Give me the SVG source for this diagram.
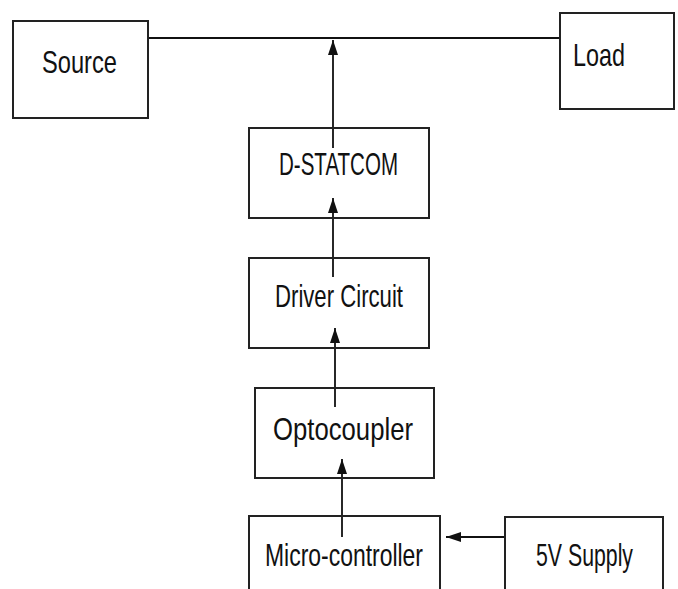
<svg xmlns="http://www.w3.org/2000/svg" width="678" height="589" viewBox="0 0 678 589">
<style>
.box{fill:#fff;stroke:#222;stroke-width:2}
.lbl{font-family:"Liberation Sans",Arial,sans-serif;fill:#111;font-size:32px}
.wire{stroke:#111;stroke-width:1.8;fill:none}
</style>
<defs>
<marker id="ah" markerUnits="userSpaceOnUse" markerWidth="16" markerHeight="12" refX="15" refY="5" orient="auto">
<path d="M0,0 L15,5 L0,10 Z" fill="#111"/>
</marker>
</defs>
<rect width="678" height="589" fill="#fff"/>
<g id="connectors">
<line class="wire" x1="148" y1="38" x2="560" y2="38"/>
<line class="wire" x1="333" y1="148" x2="333" y2="40" marker-end="url(#ah)"/>
<line class="wire" x1="333" y1="277" x2="333" y2="198" marker-end="url(#ah)"/>
<line class="wire" x1="335" y1="407" x2="335" y2="328" marker-end="url(#ah)"/>
<line class="wire" x1="342" y1="537" x2="342" y2="459" marker-end="url(#ah)"/>
<line class="wire" x1="505" y1="537" x2="446" y2="537" marker-end="url(#ah)"/>
</g>
<g id="source">
<rect class="box" x="13" y="21" width="135" height="97"/>
<text class="lbl" x="42" y="73" font-size="34" textLength="75" lengthAdjust="spacingAndGlyphs">Source</text>
</g>
<g id="load">
<rect class="box" x="560" y="13" width="114" height="96"/>
<text class="lbl" x="573" y="66" font-size="35" textLength="52" lengthAdjust="spacingAndGlyphs">Load</text>
</g>
<g id="dstatcom">
<rect class="box" x="249" y="128" width="180" height="90" fill="none" style="fill:none"/>
<text class="lbl" x="279" y="175" textLength="119" lengthAdjust="spacingAndGlyphs">D-STATCOM</text>
</g>
<g id="driver">
<rect class="box" x="249" y="258" width="180" height="90" style="fill:none"/>
<text class="lbl" x="275" y="307" font-size="33" textLength="128" lengthAdjust="spacingAndGlyphs">Driver Circuit</text>
</g>
<g id="optocoupler">
<rect class="box" x="255" y="388" width="179" height="90" style="fill:none"/>
<text class="lbl" x="273" y="440" font-size="33" textLength="140" lengthAdjust="spacingAndGlyphs">Optocoupler</text>
</g>
<g id="microcontroller">
<rect class="box" x="249" y="516" width="191" height="90" style="fill:none"/>
<text class="lbl" x="265" y="566" font-size="33" textLength="158" lengthAdjust="spacingAndGlyphs">Micro-controller</text>
</g>
<g id="supply">
<rect class="box" x="505" y="517" width="158" height="90" style="fill:none"/>
<text class="lbl" x="536" y="566" font-size="33" textLength="97" lengthAdjust="spacingAndGlyphs">5V Supply</text>
</g>
</svg>
